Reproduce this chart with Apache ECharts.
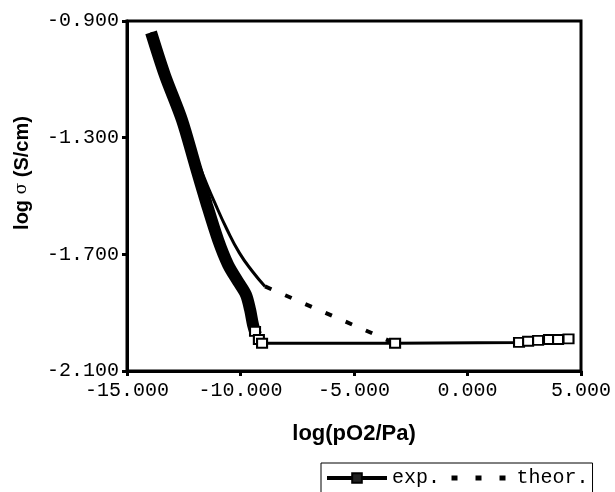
<!DOCTYPE html>
<html>
<head>
<meta charset="utf-8">
<script src="https://cdn.jsdelivr.net/npm/echarts@6/dist/echarts.min.js"></script>
<style>
  html, body { margin: 0; padding: 0; background: #fff; }
  #chart { width: 615px; height: 492px; }
</style>
</head>
<body>
<div id="chart"></div>
<script>
// exp. - dense measured band (drawn as a thick line)
const bandX = [-13.94, -13.33, -12.58, -12.00, -11.48, -10.99, -10.55, -10.11, -9.76, -9.58, -9.45, -9.32]
const bandY = [-0.939, -1.086, -1.239, -1.393, -1.530, -1.650, -1.735, -1.793, -1.838, -1.889, -1.941, -1.975]
// exp. - single points with square markers
const expX = [-9.36, -9.19, -9.05, -3.19, 2.27, 2.67, 3.11, 3.59, 3.99, 4.45]
const expY = [-1.964, -1.992, -2.005, -2.005, -2.002, -1.998, -1.995, -1.992, -1.992, -1.990]
// theor. - solid part
const theorX = [-13.94, -13.11, -12.31, -11.65, -11.15, -10.60, -10.05, -9.48, -8.92]
const theorY = [-0.939, -1.120, -1.291, -1.428, -1.520, -1.614, -1.695, -1.758, -1.810]
// theor. - dashed part
const theorDashX = [-8.92, -3.19]
const theorDashY = [-1.810, -2.005]
// axes
const xTicks = [-15, -10, -5, 0, 5]
const yTicks = [-2.1, -1.7, -1.3, -0.9]

const pairs = (xs, ys) => xs.map((x, i) => [x, ys[i]])
const mono = 'Liberation Mono'
const sans = 'Liberation Sans'

const chart = echarts.init(document.getElementById('chart'))
chart.setOption({
  animation: false,
  grid: {
    left: 127, right: 34, top: 21, bottom: 121,
    show: true, borderColor: '#000', borderWidth: 3
  },
  legend: {
    data: [
      { name: 'exp.', lineStyle: { width: 4 }, itemStyle: { color: '#222', borderColor: '#000' } },
      { name: 'theor.', lineStyle: { width: 5, type: [6, 18] } }
    ],
    left: 321, top: 463,
    orient: 'horizontal',
    itemWidth: 60, itemHeight: 12, itemGap: 9,
    padding: [5, 4, 30, 4],
    borderColor: '#000', borderWidth: 1, borderRadius: 0,
    textStyle: { fontFamily: mono, fontSize: 20, color: '#000' }
  },
  xAxis: {
    type: 'value', min: -15, max: 5, interval: 5,
    name: 'log(pO2/Pa)', nameLocation: 'middle', nameGap: 52,
    nameTextStyle: { fontFamily: sans, fontWeight: 'bold', fontSize: 22, color: '#000' },
    axisLine: { onZero: false, lineStyle: { color: '#000', width: 3 } },
    axisTick: { show: true, length: 5, lineStyle: { color: '#000', width: 3 } },
    axisLabel: { fontFamily: mono, fontSize: 20, color: '#000', margin: 10,
      formatter: v => xTicks.includes(v) ? v.toFixed(3) : '' },
    splitLine: { show: false }
  },
  yAxis: {
    type: 'value', min: -2.1, max: -0.9, interval: 0.4,
    name: '{b|log }{s|σ}{b| (S/cm)}', nameLocation: 'middle', nameGap: 95,
    nameTextStyle: {
      color: '#000', padding: [0, 0, 0, 46],
      rich: {
        b: { fontFamily: sans, fontWeight: 'bold', fontSize: 20, color: '#000' },
        s: { fontFamily: 'DejaVu Serif', fontSize: 17, color: '#000' }
      }
    },
    axisLine: { show: true, onZero: false, lineStyle: { color: '#000', width: 3 } },
    axisTick: { show: true, length: 5, lineStyle: { color: '#000', width: 3 } },
    axisLabel: { fontFamily: mono, fontSize: 20, color: '#000', margin: 8,
      formatter: v => yTicks.some(t => Math.abs(t - v) < 1e-9) ? v.toFixed(3) : '' },
    splitLine: { show: false }
  },
  series: [
    {
      name: 'band', type: 'line', data: pairs(bandX, bandY),
      showSymbol: false, smooth: 0.3,
      lineStyle: { color: '#000', width: 12 }
    },
    {
      name: 'theor-solid', type: 'line', data: pairs(theorX, theorY),
      showSymbol: false, smooth: 0.5,
      lineStyle: { color: '#000', width: 3 }
    },
    {
      name: 'theor.', type: 'line', data: pairs(theorDashX, theorDashY),
      symbol: 'none',
      lineStyle: { color: '#000', width: 4, type: [7, 15] },
      itemStyle: { color: '#000', opacity: 0 }
    },
    {
      name: 'exp.', type: 'line', data: pairs(expX, expY),
      symbol: 'rect', symbolSize: [10, 9],
      lineStyle: { color: '#000', width: 3 },
      itemStyle: { color: '#fff', borderColor: '#000', borderWidth: 2 }
    }
  ]
})
</script>
</body>
</html>
